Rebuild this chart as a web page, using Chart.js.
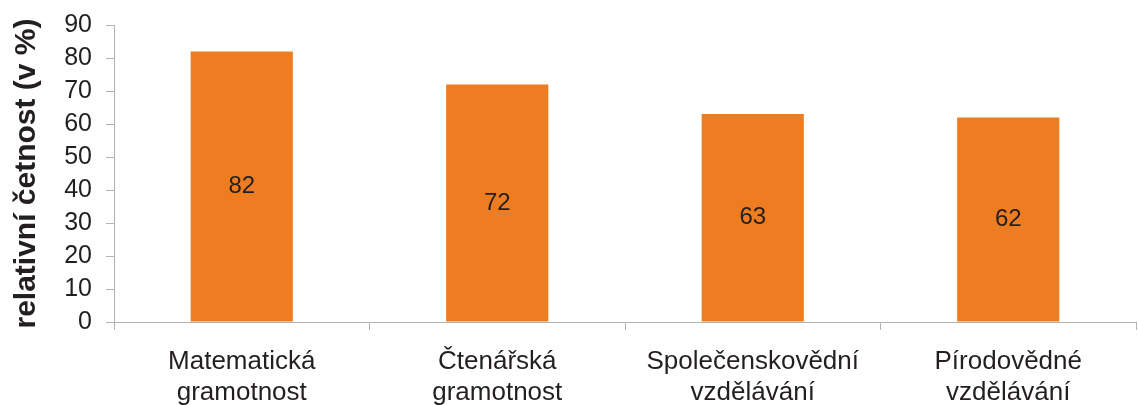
<!DOCTYPE html>
<html>
<head>
<meta charset="utf-8">
<script src="https://cdn.jsdelivr.net/npm/chart.js@4/dist/chart.umd.min.js"></script>
<style>
html,body{margin:0;padding:0;background:#fff;overflow:hidden;}
#wrap{width:1138px;height:405px;position:relative;}
</style>
</head>
<body>
<div id="wrap"><canvas id="c"></canvas></div>
<script>
const categories = [
  ['Matematická', 'gramotnost'],
  ['Čtenářská', 'gramotnost'],
  ['Společenskovědní', 'vzdělávání'],
  ['Pírodovědné', 'vzdělávání']
];
const values = [82, 72, 63, 62];
const yTitle = 'relativní četnost (v %)';
const yMin = 0, yMax = 90, yStep = 10;

const textColor = '#231f20';
const axisColor = '#b3b3b3';
const barColor = '#ee7d22';
const fontFamily = '"Liberation Sans", Arial, sans-serif';

const valueLabels = {
  id: 'valueLabels',
  afterDatasetsDraw(chart) {
    const ctx = chart.ctx;
    const meta = chart.getDatasetMeta(0);
    ctx.save();
    ctx.font = '24px ' + fontFamily;
    ctx.fillStyle = textColor;
    ctx.textAlign = 'center';
    ctx.textBaseline = 'middle';
    meta.data.forEach((bar, i) => {
      const y = (bar.y + bar.base) / 2;
      ctx.fillText(String(chart.data.datasets[0].data[i]), bar.x, y);
    });
    ctx.restore();
  }
};

new Chart(document.getElementById('c'), {
  type: 'bar',
  data: {
    labels: categories,
    datasets: [{
      data: values,
      backgroundColor: barColor,
      borderWidth: 0,
      barPercentage: 0.4,
      categoryPercentage: 1.0
    }]
  },
  options: {
    responsive: true,
    maintainAspectRatio: false,
    animation: false,
    layout: { padding: { top: 25, right: 2, bottom: 0, left: 0 } },
    plugins: { legend: { display: false }, tooltip: { enabled: false } },
    scales: {
      x: {
        grid: { offset: true, drawOnChartArea: false, drawTicks: true, tickLength: 8, color: axisColor, lineWidth: 1 },
        border: { display: true, color: axisColor, width: 1 },
        ticks: {
          color: textColor,
          font: { family: fontFamily, size: 26, lineHeight: 1.2 },
          padding: 16,
          maxRotation: 0,
          autoSkip: false
        },
        afterFit(scale) { scale.height = 83; }
      },
      y: {
        min: yMin, max: yMax,
        grid: { drawOnChartArea: false, drawTicks: true, tickLength: 8, color: axisColor, lineWidth: 1 },
        border: { display: true, color: axisColor, width: 1 },
        ticks: {
          stepSize: yStep,
          autoSkip: false,
          color: textColor,
          font: { family: fontFamily, size: 25 },
          padding: 14
        },
        title: {
          display: true,
          text: yTitle,
          color: textColor,
          font: { family: fontFamily, size: 30, weight: 'bold' },
          padding: { top: 9, bottom: 0 }
        },
        afterFit(scale) { scale.width = 114; scale.paddingTop = 0; scale.paddingBottom = 0; }
      }
    }
  },
  plugins: [valueLabels]
});
</script>
</body>
</html>
